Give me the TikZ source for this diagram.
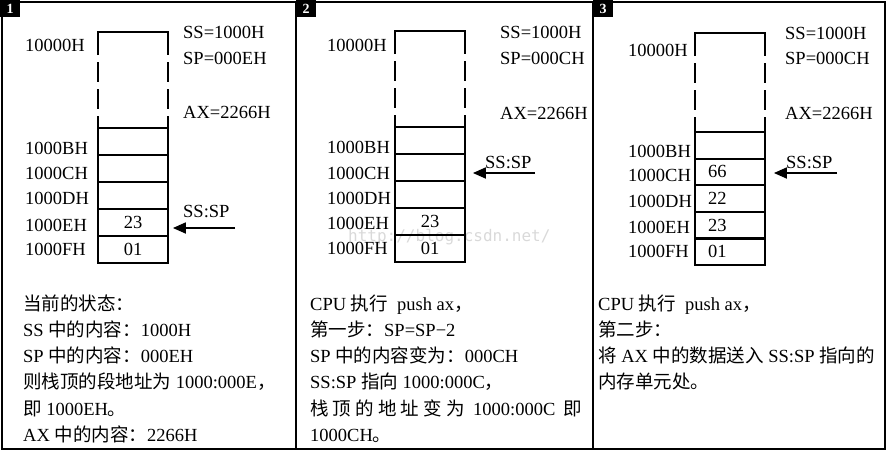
\documentclass[tikz,border=0pt]{standalone}
\usepackage{fontspec}
\setmainfont{Liberation Serif}
\newfontfamily\cjk{Noto Sans CJK SC}
\newfontfamily\wmfont{DejaVu Sans Mono}
\usetikzlibrary{arrows.meta}
\newcommand{\zh}[1]{{\cjk #1}}

\begin{document}
\begin{tikzpicture}[x=1pt,y=-1pt,
  frame/.style={draw=black,line width=2pt},
  tab/.style={fill=black,text=white,minimum width=20pt,minimum height=17pt,font=\fontsize{14}{14}\selectfont\bfseries},
  wall/.style={line width=1.8pt},
  gap/.style={wall,dash pattern=on 20pt off 7pt,dash phase=20pt},
  cell/.style={draw,line width=1.8pt,minimum width=70pt,minimum height=27pt,font=\fontsize{18.5}{20}\selectfont},
  lcell/.style={cell,text width=44pt,inner xsep=13pt,align=left},
  lab/.style={anchor=west,font=\fontsize{18.5}{20}\selectfont},
  txt/.style={anchor=base west,align=left,font=\fontsize{18.5}{26.3}\selectfont},
  ptr/.style={line width=1.8pt,-{Triangle[length=13pt,width=11pt]}},
  wmark/.style={anchor=west,text=black!15,font=\wmfont\fontsize{16}{16}\selectfont}]
\tikzstyle{every node}+=[inner sep=0pt]
\useasboundingbox (0,0) rectangle (887,451);
\node[wmark] (wm) at (348,237) {http://blog.csdn.net/};
\draw[frame] (2,2) rectangle (885,449);
\draw[frame] (296,2) -- (296,449);
\draw[frame] (593,2) -- (593,449);

% panel 1: current state
\node[tab] (n1) at (10,8.5) {1};
\draw[wall] (98,55) -- (98,32) -- (168,32) -- (168,55);
\draw[gap] (98,55) -- (98,128);
\draw[gap] (168,55) -- (168,128);
\node[cell] (a1) at (133,141.5) {};
\node[cell] (a2) at (133,168.5) {};
\node[cell] (a3) at (133,195.5) {};
\node[cell] (a4) at (133,222.5) {23};
\node[cell] (a5) at (133,249.5) {01};
\node[lab] (a0l) at (25,45) {10000H};
\node[lab] (a1l) at (25,148) {1000BH};
\node[lab] (a2l) at (25,173) {1000CH};
\node[lab] (a3l) at (25,198) {1000DH};
\node[lab] (a4l) at (25,225) {1000EH};
\node[lab] (a5l) at (25,249) {1000FH};
\node[lab] (ss1) at (183,32) {SS=1000H};
\node[lab] (sp1) at (183,58) {SP=000EH};
\node[lab] (ax1) at (183,112) {AX=2266H};
\node[lab] (sssp1) at (183,211) {SS:SP};
\coordinate (s1) at (235,228);
\draw[ptr,shorten >=4pt] (s1) -- (s1 -| a4.east);
% base of a multi-line node = last line
\node[txt] (t1) at (23,441.5) {\zh{当前的状态：}\\
SS \zh{中的内容：}1000H\\
SP \zh{中的内容：}000EH\\
\zh{则栈顶的段地址为} 1000:000E\zh{，}\\
\zh{即} 1000EH\zh{。}\\
AX \zh{中的内容：}2266H};

% panel 2: SP=SP-2
\node[tab] (n2) at (306,8.5) {2};
\draw[wall] (395,54) -- (395,31) -- (465,31) -- (465,54);
\draw[gap] (395,54) -- (395,127);
\draw[gap] (465,54) -- (465,127);
\node[cell] (b1) at (430,140.5) {};
\node[cell] (b2) at (430,167.5) {};
\node[cell] (b3) at (430,194.5) {};
\node[cell] (b4) at (430,221.5) {23};
\node[cell] (b5) at (430,248.5) {01};
\node[lab] (b0l) at (327,45) {10000H};
\node[lab] (b1l) at (327,147) {1000BH};
\node[lab] (b2l) at (327,173) {1000CH};
\node[lab] (b3l) at (327,198) {1000DH};
\node[lab] (b4l) at (327,223) {1000EH};
\node[lab] (b5l) at (327,248) {1000FH};
\node[lab] (ss2) at (500,32) {SS=1000H};
\node[lab] (sp2) at (500,58) {SP=000CH};
\node[lab] (ax2) at (500,113) {AX=2266H};
\node[lab] (sssp2) at (485,163) {SS:SP};
\coordinate (s2) at (535,173);
\draw[ptr,shorten >=7pt] (s2) -- (s2 -| b2.east);
\node[txt] (t2) at (310,441.5) {CPU \zh{执行}\ \ push ax\zh{，}\\
\zh{第一步：}SP=SP−2\\
SP \zh{中的内容变为：}000CH\\
SS:SP \zh{指向} 1000:000C\zh{，}\\
\makebox[272pt][s]{\zh{栈} \zh{顶} \zh{的} \zh{地} \zh{址} \zh{变} \zh{为} \ 1000:000C \ \zh{即}}\\
1000CH\zh{。}};

% panel 3: move AX into SS:SP
\node[tab] (n3) at (603,8.5) {3};
\draw[wall] (695,56) -- (695,33) -- (765,33) -- (765,56);
\draw[gap] (695,56) -- (695,132);
\draw[gap] (765,56) -- (765,132);
\node[cell] (c1) at (730,145.3) {};
\node[lcell] (c2) at (730,171.9) {66};
\node[lcell] (c3) at (730,198.5) {22};
\node[lcell] (c4) at (730,225.1) {23};
\node[lcell] (c5) at (730,251.7) {01};
\node[lab] (c0l) at (628,50) {10000H};
\node[lab] (c1l) at (628,151) {1000BH};
\node[lab] (c2l) at (628,175) {1000CH};
\node[lab] (c3l) at (628,201) {1000DH};
\node[lab] (c4l) at (628,227) {1000EH};
\node[lab] (c5l) at (628,251) {1000FH};
\node[lab] (ss3) at (785,33) {SS=1000H};
\node[lab] (sp3) at (785,58) {SP=000CH};
\node[lab] (ax3) at (785,113) {AX=2266H};
\node[lab] (sssp3) at (786,163) {SS:SP};
\coordinate (s3) at (837,173);
\draw[ptr,shorten >=8pt] (s3) -- (s3 -| c2.east);
\node[txt] (t3) at (598,388.9) {CPU \zh{执行}\ \ push ax\zh{，}\\
\zh{第二步：}\\
\zh{将} AX \zh{中的数据送入} SS:SP \zh{指向的}\\
\zh{内存单元处。}};
\end{tikzpicture}
\end{document}
